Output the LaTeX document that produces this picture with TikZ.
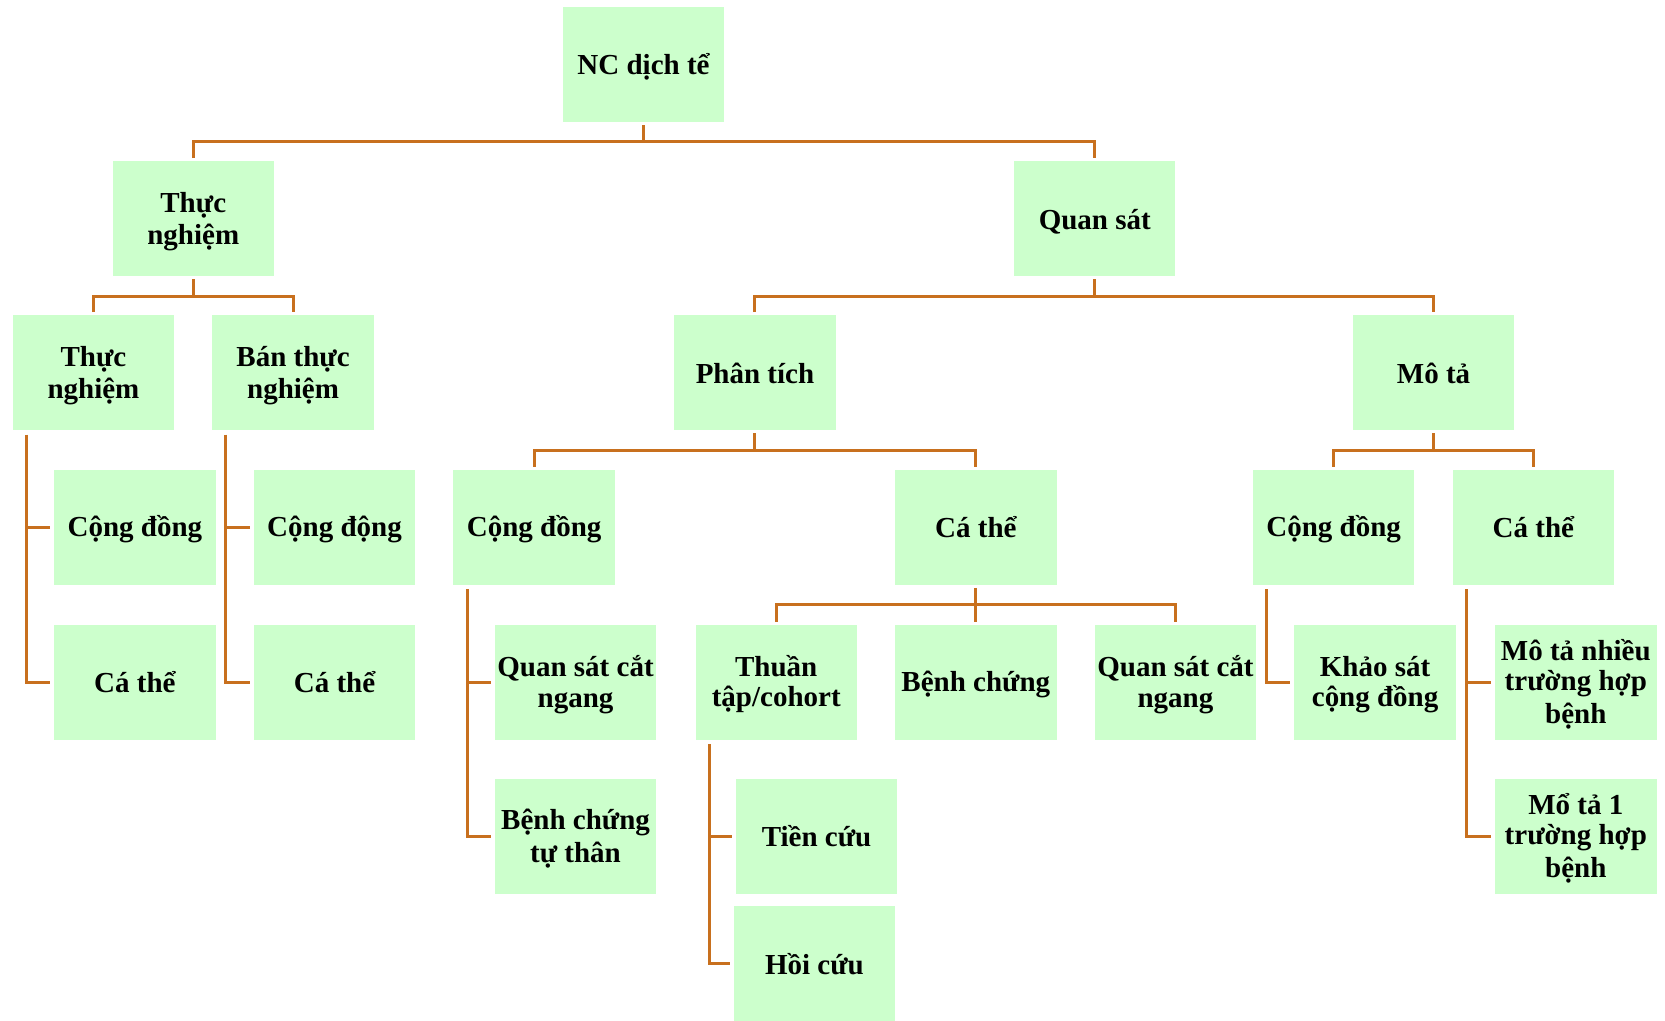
\documentclass[tikz,border=0pt]{standalone}
\usepackage{fontspec}
\setmainfont{Liberation Serif}
\definecolor{boxgreen}{RGB}{204,255,204}
\definecolor{connorange}{RGB}{200,112,30}
\newcommand{\myl}[1]{\rule[-4.6pt]{0pt}{30pt}#1}
\tikzset{
  box/.style={fill=boxgreen, minimum width=161.4pt, minimum height=114.7pt, align=center, inner sep=0pt,
    font=\bfseries\fontsize{29}{30}\selectfont},
  conn/.style={draw=connorange, line width=3pt}
}
\begin{document}
\begin{tikzpicture}[x=1.0619pt, y=-1.0619pt]
\useasboundingbox (0,0) rectangle (1568,961);
% nodes
\node[box] (nc)  at (606,61) {\myl{NC dịch tể}};
\node[box] (tn)  at (182,206) {\myl{Thực}\\\myl{nghiệm}};
\node[box] (qs)  at (1031,206) {\myl{Quan sát}};
\node[box] (tn2) at (88,351) {\myl{Thực}\\\myl{nghiệm}};
\node[box] (btn) at (276,351) {\myl{Bán thực}\\\myl{nghiệm}};
\node[box] (pt)  at (711,351) {\myl{Phân tích}};
\node[box] (mt)  at (1350,351) {\myl{Mô tả}};
\node[box] (r4a) at (127,496.5) {\myl{Cộng đồng}};
\node[box] (r4b) at (315,496.5) {\myl{Cộng động}};
\node[box] (r4c) at (503,496.5) {\myl{Cộng đồng}};
\node[box] (r4d) at (919,496.5) {\myl{Cá thể}};
\node[box] (r4e) at (1256,496.5) {\myl{Cộng đồng}};
\node[box] (r4f) at (1444,496.5) {\myl{Cá thể}};
\node[box] (r5a) at (127,642.5) {\myl{Cá thể}};
\node[box] (r5b) at (315,642.5) {\myl{Cá thể}};
\node[box] (r5c) at (542,642.5) {\myl{Quan sát cắt}\\\myl{ngang}};
\node[box] (r5d) at (731,642.5) {\myl{Thuần}\\\myl{tập/cohort}};
\node[box] (r5e) at (919,642.5) {\myl{Bệnh chứng}};
\node[box] (r5f) at (1107,642.5) {\myl{Quan sát cắt}\\\myl{ngang}};
\node[box] (r5g) at (1295,642.5) {\myl{Khảo sát}\\\myl{cộng đồng}};
\node[box] (r5h) at (1484,642.5) {\myl{Mô tả nhiều}\\\myl{trường hợp}\\\myl{bệnh}};
\node[box] (r6a) at (542,787.5) {\myl{Bệnh chứng}\\\myl{tự thân}};
\node[box] (r6b) at (769,787.5) {\myl{Tiền cứu}};
\node[box] (r6c) at (1484,787.5) {\myl{Mổ tả 1}\\\myl{trường hợp}\\\myl{bệnh}};
\node[box] (r7)  at (767,907.5) {\myl{Hồi cứu}};
% top-down buses
\draw[conn] ([yshift=-3pt]nc.south) -- (nc.south |- 0,133);
\draw[conn] ([yshift=3pt]tn.north) |- (qs.north |- 0,133) -- ([yshift=3pt]qs.north);
\draw[conn] ([yshift=-3pt]tn.south) -- (tn.south |- 0,279);
\draw[conn] ([yshift=3pt]tn2.north) |- (btn.north |- 0,279) -- ([yshift=3pt]btn.north);
\draw[conn] ([yshift=-3pt]qs.south) -- (qs.south |- 0,279);
\draw[conn] ([yshift=3pt]pt.north) |- (mt.north |- 0,279) -- ([yshift=3pt]mt.north);
\draw[conn] ([yshift=-3pt]pt.south) -- (pt.south |- 0,424);
\draw[conn] ([yshift=3pt]r4c.north) |- (r4d.north |- 0,424) -- ([yshift=3pt]r4d.north);
\draw[conn] ([yshift=-3pt]mt.south) -- (mt.south |- 0,424);
\draw[conn] ([yshift=3pt]r4e.north) |- (r4f.north |- 0,424) -- ([yshift=3pt]r4f.north);
\draw[conn] ([yshift=-3pt]r4d.south) -- (r4d.south |- 0,569);
\draw[conn] ([yshift=3pt]r5d.north) |- (r5f.north |- 0,569) -- ([yshift=3pt]r5f.north);
\draw[conn] ([yshift=3pt]r5e.north) -- (r5e.north |- 0,569);
% side-hanging connectors
\coordinate (v1) at ([shift={(13,4)}]tn2.south west);
\draw[conn] (v1) |- ([xshift=-4pt]r5a.west);
\draw[conn] ([xshift=-4pt]r4a.west) -- (r4a.west -| v1);
\coordinate (v2) at ([shift={(13,4)}]btn.south west);
\draw[conn] (v2) |- ([xshift=-4pt]r5b.west);
\draw[conn] ([xshift=-4pt]r4b.west) -- (r4b.west -| v2);
\coordinate (v3) at ([shift={(13,4)}]r4c.south west);
\draw[conn] (v3) |- ([xshift=-4pt]r6a.west);
\draw[conn] ([xshift=-4pt]r5c.west) -- (r5c.west -| v3);
\coordinate (v4) at ([shift={(13,4)}]r5d.south west);
\draw[conn] (v4) |- ([xshift=-4pt]r7.west);
\draw[conn] ([xshift=-4pt]r6b.west) -- (r6b.west -| v4);
\coordinate (v5) at ([shift={(13,4)}]r4e.south west);
\draw[conn] (v5) |- ([xshift=-4pt]r5g.west);
\coordinate (v6) at ([shift={(13,4)}]r4f.south west);
\draw[conn] (v6) |- ([xshift=-4pt]r6c.west);
\draw[conn] ([xshift=-4pt]r5h.west) -- (r5h.west -| v6);
\end{tikzpicture}
\end{document}
